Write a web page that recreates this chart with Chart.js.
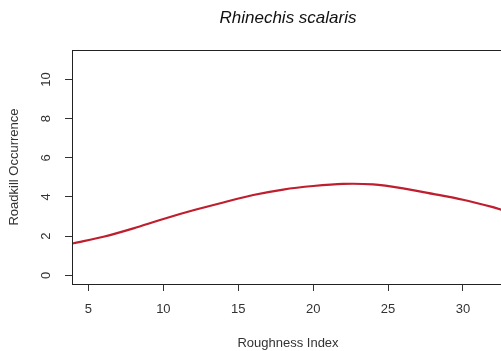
<!DOCTYPE html>
<html>
<head>
<meta charset="utf-8">
<script src="https://cdn.jsdelivr.net/npm/chart.js@4.4.1/dist/chart.umd.min.js"></script>
<style>
  html, body { margin: 0; padding: 0; background: #fff; overflow: hidden; }
  #wrap { width: 501px; height: 351px; }
</style>
</head>
<body>
<div id="wrap"><canvas id="roadkillChart" width="501" height="351"></canvas></div>
<script>
// fitted curve
const roughness = [3.9, 4, 6, 8, 10, 12, 14, 16, 18, 20, 22, 24, 26, 28, 30, 32, 32.6];
const occurrence = [1.62, 1.64, 1.97, 2.4, 2.88, 3.32, 3.72, 4.1, 4.38, 4.56, 4.67, 4.64, 4.44, 4.16, 3.86, 3.48, 3.34];
const xTicks = [5, 10, 15, 20, 25, 30];
const yTicks = [0, 2, 4, 6, 8, 10];

const mainTitle = 'Rhinechis scalaris';
const xTitle = 'Roughness Index';
const yTitle = 'Roadkill Occurrence';

const points = roughness.map((x, i) => ({ x, y: occurrence[i] }));

const rLabels = {
  id: 'rLabels',
  afterDraw(chart) {
    const { ctx, chartArea: a } = chart;
    const xs = chart.scales.x;
    const ys = chart.scales.y;
    ctx.save();
    ctx.strokeStyle = '#222';
    ctx.lineWidth = 1;
    ctx.strokeRect(a.left + 0.5, a.top + 0.5, a.right - a.left, a.bottom - a.top);

    ctx.fillStyle = '#333';
    ctx.font = '13px "Liberation Sans", Arial, sans-serif';
    ctx.textAlign = 'center';
    ctx.textBaseline = 'middle';
    xs.ticks.forEach((t) => {
      ctx.fillText(String(t.value), xs.getPixelForValue(t.value), 309);
    });
    ys.ticks.forEach((t) => {
      ctx.save();
      ctx.translate(46, ys.getPixelForValue(t.value));
      ctx.rotate(-Math.PI / 2);
      ctx.fillText(String(t.value), 0, 0);
      ctx.restore();
    });

    ctx.fillText(xTitle, 288, 343);
    ctx.save();
    ctx.translate(14, 167);
    ctx.rotate(-Math.PI / 2);
    ctx.fillText(yTitle, 0, 0);
    ctx.restore();

    ctx.fillStyle = '#111';
    ctx.font = 'italic 17px "Liberation Sans", Arial, sans-serif';
    ctx.fillText(mainTitle, 288, 18);
    ctx.restore();
  },
};

new Chart(document.getElementById('roadkillChart').getContext('2d'), {
  type: 'scatter',
  data: {
    datasets: [
      {
        data: points,
        showLine: true,
        borderColor: '#be1e2d',
        borderWidth: 2.2,
        pointRadius: 0,
        tension: 0.3,
        fill: false,
      },
    ],
  },
  options: {
    responsive: false,
    animation: false,
    events: [],
    layout: { padding: { top: 50, left: 0, right: 0, bottom: 0 } },
    plugins: { legend: { display: false }, tooltip: { enabled: false } },
    scales: {
      x: {
        type: 'linear',
        min: 3.9,
        max: 32.54,
        afterBuildTicks: (s) => { s.ticks = xTicks.map((v) => ({ value: v })); },
        afterFit: (s) => { s.height = 67; },
        ticks: { display: false },
        grid: { drawOnChartArea: false, drawTicks: true, tickLength: 7, color: '#333' },
        border: { display: false },
      },
      y: {
        type: 'linear',
        min: -0.44,
        max: 11.5,
        afterBuildTicks: (s) => { s.ticks = yTicks.map((v) => ({ value: v })); },
        afterFit: (s) => { s.width = 72; },
        ticks: { display: false },
        grid: { drawOnChartArea: false, drawTicks: true, tickLength: 7, color: '#333' },
        border: { display: false },
      },
    },
  },
  plugins: [rLabels],
});
</script>
</body>
</html>
